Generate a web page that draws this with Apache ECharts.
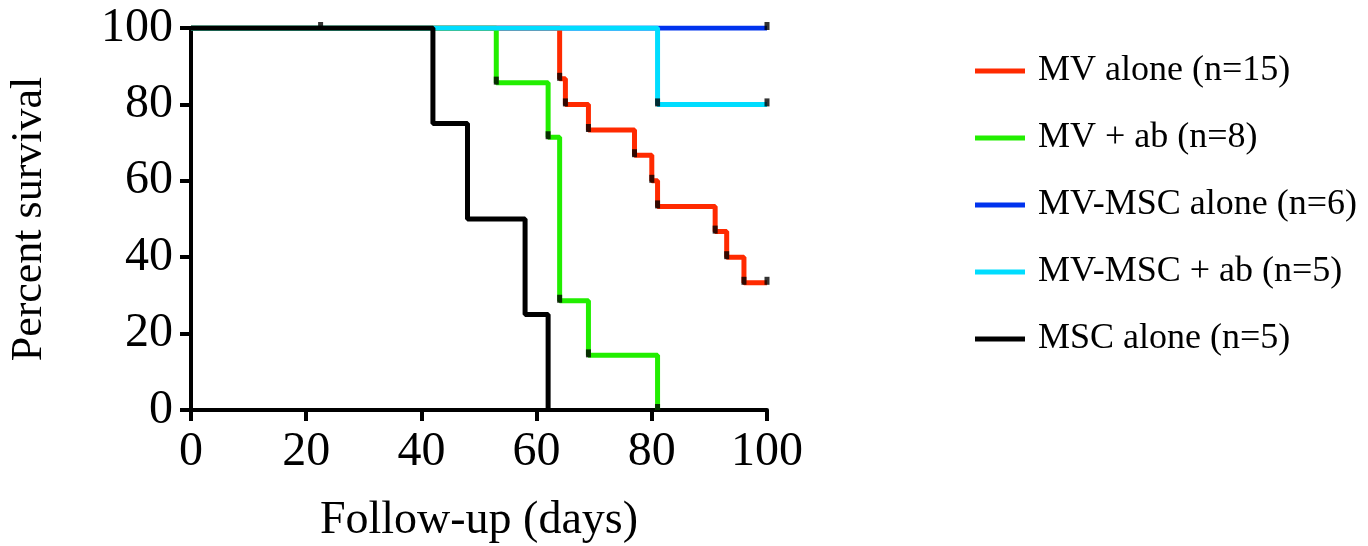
<!DOCTYPE html>
<html>
<head>
<meta charset="utf-8">
<script src="https://cdn.jsdelivr.net/npm/echarts@6/dist/echarts.min.js"></script>
<style>
  html, body { margin: 0; padding: 0; background: #fff; }
  #main { width: 1368px; height: 546px; }
</style>
</head>
<body>
<div id="main"></div>
<script>
// Kaplan-Meier steps: [day, percent survival]
const mvAlone = [[0, 100], [64, 86.7], [65, 80], [69, 73.3], [77, 66.7], [80, 60], [81, 53.3], [91, 46.7], [93, 40], [96, 33.3], [100, 33.3]];
const mvAb = [[0, 100], [53, 85.7], [62, 71.4], [64, 28.6], [69, 14.3], [81, 0]];
const mvMscAlone = [[0, 100], [100, 100]];
const mvMscAb = [[0, 100], [81, 80], [100, 80]];
const mscAlone = [[0, 100], [42, 75], [48, 50], [58, 25], [62, 0]];

// tick marks on the curves
const mvAloneMarks = [[64, 86.7], [65, 80], [69, 73.3], [77, 66.7], [80, 60], [81, 53.3], [91, 46.7], [93, 40], [96, 33.3], [100, 33.3]];
const mvAbMarks = [[53, 85.7], [62, 71.4], [64, 28.6], [69, 14.3], [81, 0]];
const mvMscAloneMarks = [[100, 100]];
const mvMscAbMarks = [[81, 80], [100, 80]];
const mscAloneMarks = [[22.5, 100]];

const names = ['MV alone (n=15)', 'MV + ab (n=8)', 'MV-MSC alone (n=6)', 'MV-MSC + ab (n=5)', 'MSC alone (n=5)'];
const colors = ['#ff2a00', '#22ee00', '#0033ee', '#00ddff', '#000000'];

let myChart = echarts.init(document.getElementById('main'));
const font = 'Liberation Serif, Times New Roman, serif';

function curve(i, data) {
  return {
    name: names[i], type: 'line', step: 'end', data: data,
    color: colors[i], showSymbol: false, symbol: 'none',
    lineStyle: { width: 5, color: colors[i] },
    animation: false
  };
}
function marks(i, data) {
  return {
    name: names[i], type: 'scatter', data: data,
    symbol: 'rect', symbolSize: [5, 8], symbolOffset: [0, -2],
    itemStyle: { color: '#000' }, z: 5, animation: false
  };
}

let option = {
  backgroundColor: '#fff',
  textStyle: { fontFamily: font, color: '#000' },
  grid: { left: 191, right: 601, top: 28, bottom: 136, outerBoundsMode: 'none', containLabel: false },
  legend: {
    data: names,
    orient: 'vertical',
    left: 970, top: 48,
    itemWidth: 50, itemHeight: 5,
    itemGap: 31,
    icon: 'rect',
    textStyle: { fontFamily: font, fontSize: 36, color: '#000', padding: [0, 0, 0, 8] }
  },
  xAxis: {
    type: 'value', min: 0, max: 100, interval: 20,
    name: 'Follow-up (days)', nameLocation: 'middle', nameGap: 88,
    nameTextStyle: { fontFamily: font, fontSize: 46, color: '#000' },
    axisLine: { show: true, lineStyle: { color: '#000', width: 4 } },
    axisTick: { show: true, length: 11, lineStyle: { color: '#000', width: 4 } },
    axisLabel: { fontFamily: font, fontSize: 48, color: '#000', margin: 18 },
    splitLine: { show: false }
  },
  yAxis: {
    type: 'value', min: 0, max: 100, interval: 20,
    name: 'Percent survival', nameLocation: 'middle', nameGap: 140,
    nameTextStyle: { fontFamily: font, fontSize: 44, color: '#000' },
    axisLine: { show: true, lineStyle: { color: '#000', width: 4 } },
    axisTick: { show: true, length: 11, lineStyle: { color: '#000', width: 4 } },
    axisLabel: { fontFamily: font, fontSize: 48, color: '#000', margin: 18 },
    splitLine: { show: false }
  },
  // drawing order: blue under red, green, cyan; black on top
  series: [
    curve(2, mvMscAlone),
    curve(0, mvAlone),
    curve(1, mvAb),
    curve(3, mvMscAb),
    curve(4, mscAlone),
    marks(2, mvMscAloneMarks),
    marks(0, mvAloneMarks),
    marks(1, mvAbMarks),
    marks(3, mvMscAbMarks),
    marks(4, mscAloneMarks)
  ]
};
myChart.setOption(option);
</script>
</body>
</html>
